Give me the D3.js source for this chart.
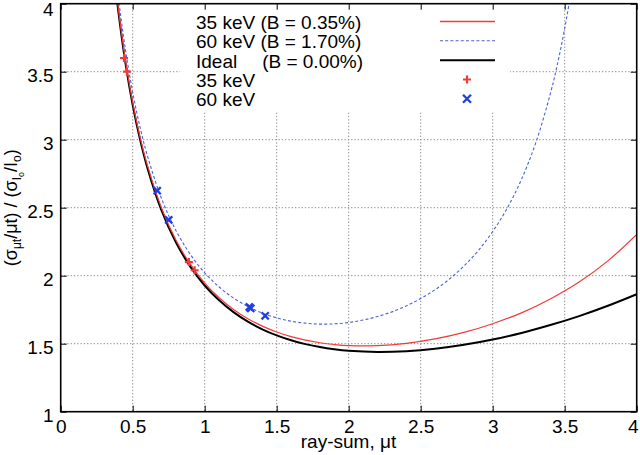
<!DOCTYPE html>
<html><head><meta charset="utf-8">
<script src="https://cdn.jsdelivr.net/npm/d3@7"></script>
<style>
html,body{margin:0;padding:0;background:#fff;}
svg{display:block;font-family:"Liberation Sans",Arial,Helvetica,sans-serif;}
</style></head>
<body><svg id="chart" width="640" height="455"></svg>
<script>
// ---- data ----
const xTicks = [0, 0.5, 1, 1.5, 2, 2.5, 3, 3.5, 4];
const yTicks = [1, 1.5, 2, 2.5, 3, 3.5, 4];
const xTickLabels = ["0", "0.5", "1", "1.5", "2", "2.5", "3", "3.5", "4"];
const yTickLabels = ["1", "1.5", "2", "2.5", "3", "3.5", "4"];

const idealX = [0.38,0.40,0.45,0.50,0.55,0.60,0.70,0.80,0.90,1.0,1.1,1.2,1.3,1.4,1.5,1.6,1.7,1.8,1.9,2.0,2.2,2.4,2.6,2.8,3.0,3.2,3.4,3.6,3.8,4.0];
const idealY = [4.129,3.946,3.561,3.255,3.006,2.800,2.480,2.245,2.067,1.928,1.819,1.732,1.662,1.606,1.561,1.525,1.497,1.475,1.459,1.448,1.439,1.445,1.463,1.492,1.531,1.579,1.637,1.703,1.779,1.864];

const kev35X = [0.38,0.40,0.45,0.50,0.55,0.60,0.70,0.80,0.90,1.0,1.1,1.2,1.3,1.4,1.5,1.6,1.7,1.8,1.9,2.0,2.2,2.4,2.6,2.8,3.0,3.2,3.4,3.6,3.8,4.0];
const kev35Y = [4.150,3.967,3.581,3.274,3.024,2.818,2.498,2.263,2.085,1.946,1.838,1.752,1.684,1.629,1.586,1.552,1.526,1.507,1.494,1.486,1.486,1.503,1.535,1.583,1.647,1.727,1.829,1.953,2.109,2.304];

const kev60X = [0.38,0.40,0.45,0.50,0.55,0.60,0.70,0.80,0.90,1.0,1.1,1.2,1.3,1.4,1.5,1.6,1.7,1.8,1.9,2.0,2.1,2.2,2.3,2.4,2.5,2.6,2.7,2.8,2.9,3.0,3.1,3.2,3.3,3.4,3.45,3.5,3.55,3.6];
const kev60Y = [4.234,4.049,3.659,3.349,3.097,2.890,2.568,2.333,2.157,2.021,1.917,1.836,1.773,1.725,1.690,1.665,1.651,1.644,1.646,1.656,1.674,1.700,1.734,1.778,1.832,1.897,1.976,2.071,2.185,2.325,2.495,2.709,2.980,3.337,3.557,3.818,4.130,4.507];

const meas35X = [0.44, 0.46, 0.89, 0.93];
const meas35Y = [3.60, 3.50, 2.10, 2.04];
const meas60X = [0.67, 0.75, 1.31, 1.32, 1.42];
const meas60Y = [2.625, 2.41, 1.77, 1.76, 1.705];

const legendLabels = ["35 keV (B = 0.35%)", "60 keV (B = 1.70%)", "Ideal", "35 keV", "60 keV"];
const idealBLabel = "(B = 0.00%)";

// ---- layout ----
const L = 60.7, R = 636.7, T = 3.7, B = 411.7;
const svg = d3.select("#chart");
const x = d3.scaleLinear().domain([0, 4]).range([L, R]);
const y = d3.scaleLinear().domain([1, 4]).range([B, T]);
const FS = 19;
const RED = "#f23a3a", BLUE = "#1f3fe0", BLUEC = "#4a62d8";

// grid
const grid = svg.append("g").attr("stroke", "#8a8a8a").attr("stroke-width", 1).attr("stroke-dasharray", "1.3,2");
grid.selectAll(".gx").data(xTicks.slice(1, -1)).enter().append("line")
  .attr("x1", d => x(d)).attr("x2", d => x(d)).attr("y1", T).attr("y2", B);
grid.selectAll(".gy").data(yTicks.slice(1, -1)).enter().append("line")
  .attr("y1", d => y(d)).attr("y2", d => y(d)).attr("x1", L).attr("x2", R);

// legend background (hides grid)
svg.append("rect").attr("x", 180).attr("y", T).attr("width", 330).attr("height", 108.5).attr("fill", "#fff");

// curves
svg.append("clipPath").attr("id", "clip").append("rect").attr("x", L).attr("y", T).attr("width", R - L).attr("height", B - T);
const line = d3.line().x(d => x(d[0])).y(d => y(d[1])).curve(d3.curveCatmullRom.alpha(0.5));
const plot = svg.append("g").attr("clip-path", "url(#clip)");
plot.append("path").datum(d3.zip(kev60X, kev60Y)).attr("d", line)
  .attr("fill", "none").attr("stroke", BLUEC).attr("stroke-width", 1.1).attr("stroke-dasharray", "3,2.2");
plot.append("path").datum(d3.zip(idealX, idealY)).attr("d", line)
  .attr("fill", "none").attr("stroke", "#000").attr("stroke-width", 2);
plot.append("path").datum(d3.zip(kev35X, kev35Y)).attr("d", line)
  .attr("fill", "none").attr("stroke", RED).attr("stroke-width", 1.2);

// markers
function plus(g, cx, cy, s) {
  g.append("path").attr("d", `M${cx - s},${cy}H${cx + s}M${cx},${cy - s}V${cy + s}`)
    .attr("stroke", RED).attr("stroke-width", 2.2).attr("fill", "none");
}
function cross(g, cx, cy, s) {
  g.append("path").attr("d", `M${cx - s},${cy - s}L${cx + s},${cy + s}M${cx - s},${cy + s}L${cx + s},${cy - s}`)
    .attr("stroke", BLUE).attr("stroke-width", 2.3).attr("fill", "none");
}
const mk = svg.append("g");
meas35X.forEach((v, i) => plus(mk, x(v), y(meas35Y[i]), 4));
meas60X.forEach((v, i) => cross(mk, x(v), y(meas60Y[i]), 3.6));

// axes (ticks inward, on all sides)
const fmtX = (d, i) => xTickLabels[i];
const fmtY = (d, i) => yTickLabels[i];
const axB = svg.append("g").attr("transform", `translate(0,${B})`)
  .call(d3.axisBottom(x).tickValues(xTicks).tickFormat(fmtX).tickSize(-6).tickPadding(8));
const axT = svg.append("g").attr("transform", `translate(0,${T})`)
  .call(d3.axisTop(x).tickValues(xTicks).tickFormat("").tickSize(-6));
const axL = svg.append("g").attr("transform", `translate(${L},0)`)
  .call(d3.axisLeft(y).tickValues(yTicks).tickFormat(fmtY).tickSize(-6).tickPadding(7));
const axR = svg.append("g").attr("transform", `translate(${R},0)`)
  .call(d3.axisRight(y).tickValues(yTicks).tickFormat("").tickSize(-6));
[axB, axT, axL, axR].forEach(a => {
  a.select(".domain").remove();
  a.selectAll(".tick line").attr("stroke", "#000").attr("stroke-width", 1);
  a.selectAll("text").attr("font-size", FS).attr("fill", "#000").attr("font-family", "Liberation Sans, Arial, sans-serif");
});
axL.selectAll("text").attr("dy", "0.5em");
axL.selectAll("text").filter((d, i) => i === yTicks.length - 1).attr("dy", "0.62em");
axB.selectAll("text").filter((d, i) => i === xTicks.length - 1).attr("text-anchor", "end").attr("dx", "0.07em");
svg.append("rect").attr("x", L).attr("y", T).attr("width", R - L).attr("height", B - T)
  .attr("fill", "none").attr("stroke", "#000").attr("stroke-width", 1.6);

// axis titles
svg.append("text").attr("x", 348.5).attr("y", 447.5).attr("text-anchor", "middle")
  .attr("font-size", FS).text("ray-sum, μt");
const yl = svg.append("text").attr("transform", `translate(17,${(T + B) / 2}) rotate(-90)`)
  .attr("text-anchor", "middle").attr("font-size", 18);
yl.append("tspan").text("(σ");
yl.append("tspan").attr("font-size", 12).attr("dy", 4).text("μt");
yl.append("tspan").attr("dy", -4).text("/μt) / (σ");
yl.append("tspan").attr("font-size", 12).attr("dy", 4).text("I");
yl.append("tspan").attr("font-size", 9).attr("dy", 3).text("o");
yl.append("tspan").attr("dy", -7).text("/I");
yl.append("tspan").attr("font-size", 12).attr("dy", 4).text("o");
yl.append("tspan").attr("dy", -4).text(")");

// legend
const rowY = [29, 48.3, 67.7, 87, 106.3];
const lg = svg.append("g").attr("font-size", FS).attr("fill", "#000");
legendLabels.forEach((t, i) => {
  lg.append("text").attr("x", 196).attr("y", rowY[i]).text(t);
});
lg.append("text").attr("x", 363).attr("y", rowY[2]).attr("text-anchor", "end").text(idealBLabel);
const sx1 = 440, sx2 = 495, mid = -7.5;
lg.append("line").attr("x1", sx1).attr("x2", sx2).attr("y1", rowY[0] + mid).attr("y2", rowY[0] + mid)
  .attr("stroke", RED).attr("stroke-width", 1.3);
lg.append("line").attr("x1", sx1).attr("x2", sx2).attr("y1", rowY[1] + mid).attr("y2", rowY[1] + mid)
  .attr("stroke", BLUEC).attr("stroke-width", 1.1).attr("stroke-dasharray", "3,2.2");
lg.append("line").attr("x1", sx1).attr("x2", sx2).attr("y1", rowY[2] + mid).attr("y2", rowY[2] + mid)
  .attr("stroke", "#000").attr("stroke-width", 2);
plus(lg, 467, rowY[3] + mid, 4);
cross(lg, 467, rowY[4] + mid, 4);
</script></body></html>
